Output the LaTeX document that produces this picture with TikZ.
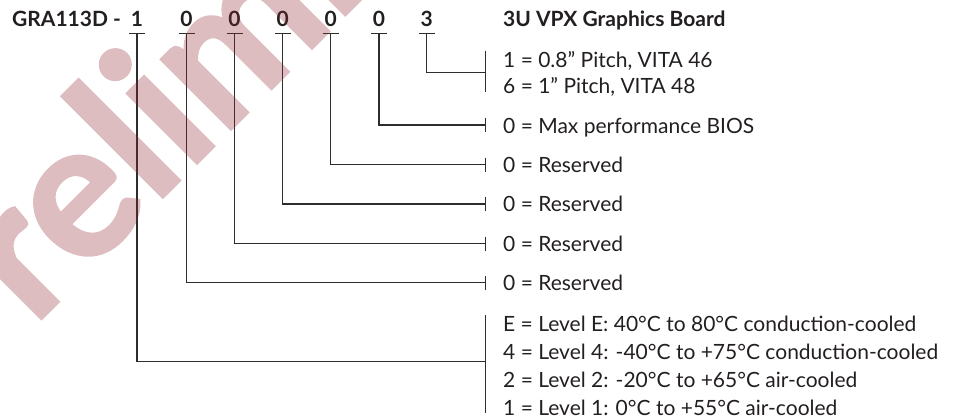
\documentclass[tikz,border=0pt]{standalone}
\usepackage{fontspec}
\setmainfont{Lato}
\newfontfamily\wmfont{Lato}[BoldFeatures={FakeBold=1.5}]
\definecolor{ink}{RGB}{35,31,32}
\definecolor{wire}{RGB}{45,45,45}
\definecolor{wm}{RGB}{142,38,48}
\tikzset{
  lbl/.style={anchor=base west, inner sep=0pt, text=ink, font=\fontsize{21}{24}\selectfont},
  head/.style={anchor=base west, inner sep=0pt, text=ink, font=\fontsize{21}{24}\selectfont\bfseries},
  digit/.style={anchor=base, inner sep=0pt, text=ink, font=\fontsize{21}{24}\selectfont\bfseries},
  conn/.style={draw=wire, line width=1.2pt},
  uline/.style={draw=wire, line width=1.6pt},
  tick/.style={draw=wire, line width=1.2pt},
}
\begin{document}
\begin{tikzpicture}[x=1pt,y=-1pt]
\useasboundingbox (0,0) rectangle (964,418);
% heading
\node[head] (code) at (12,26.7) {GRA113D -};
\node[digit] (d1) at (137,26.7) {1};
\node[digit] (d2) at (186.5,26.7) {0};
\node[digit] (d3) at (234.5,26.7) {0};
\node[digit] (d4) at (282.8,26.7) {0};
\node[digit] (d5) at (330.8,26.7) {0};
\node[digit] (d6) at (379,26.7) {0};
\node[digit] (d7) at (426.8,26.7) {3};
\node[head] (title) at (503,26.7) {3U VPX Graphics Board};
% underline coordinates
\foreach \i/\x in {1/137,2/186.5,3/234.5,4/282.8,5/330.8,6/379,7/426.8}{
  \coordinate (u\i) at (\x,33.3);
  \draw[uline] ([xshift=-8pt]u\i) -- ([xshift=8pt]u\i);
}
% labels
\node[lbl] (l7a) at (503,67.3) {1 = 0.8” Pitch, VITA 46};
\node[lbl] (l7b) at (503,93.3) {6 = 1” Pitch, VITA 48};
\node[lbl] (l6) at (503,133.3) {0 = Max performance BIOS};
\node[lbl] (l5) at (503,172) {0 = Reserved};
\node[lbl] (l4) at (503,211.5) {0 = Reserved};
\node[lbl] (l3) at (503,251) {0 = Reserved};
\node[lbl] (l2) at (503,290) {0 = Reserved};
\node[lbl] (l1a) at (503,331.7) {E = Level E: 40°C to 80°C conduction-cooled};
\node[lbl] (l1b) at (503,359.5) {4 = Level 4: -40°C to +75°C conduction-cooled};
\node[lbl] (l1c) at (503,387.3) {2 = Level 2: -20°C to +65°C air-cooled};
\node[lbl] (l1d) at (503,415) {1 = Level 1: 0°C to +55°C air-cooled};
% bracket coordinates
\coordinate (b7) at (485.7,72.3);
\coordinate (b6) at (485.7,125);
\coordinate (b5) at (485.7,164.5);
\coordinate (b4) at (485.7,204);
\coordinate (b3) at (485.7,243.5);
\coordinate (b2) at (485.7,282.5);
\coordinate (b1) at (485.7,361.7);
% connectors
\foreach \i in {1,...,7}{ \draw[conn] (u\i) |- (b\i); }
% bracket bars
\draw[tick] (485.7,50.5) -- (485.7,92);
\foreach \i in {2,...,6}{ \draw[tick] ([yshift=7pt]b\i) -- ([yshift=-7pt]b\i); }
\draw[tick] (485.7,315) -- (485.7,413);
% watermark
\begin{scope}
\clip (0,0) rectangle (964,418);
\begin{scope}[transparency group, opacity=0.3]
\node[anchor=base west, inner sep=0pt, rotate=45, text=wm,
      font=\fontsize{192}{192}\selectfont\wmfont\bfseries] (wmark) at (-50,410) {Preliminary};
\end{scope}
\end{scope}
\end{tikzpicture}
\end{document}
